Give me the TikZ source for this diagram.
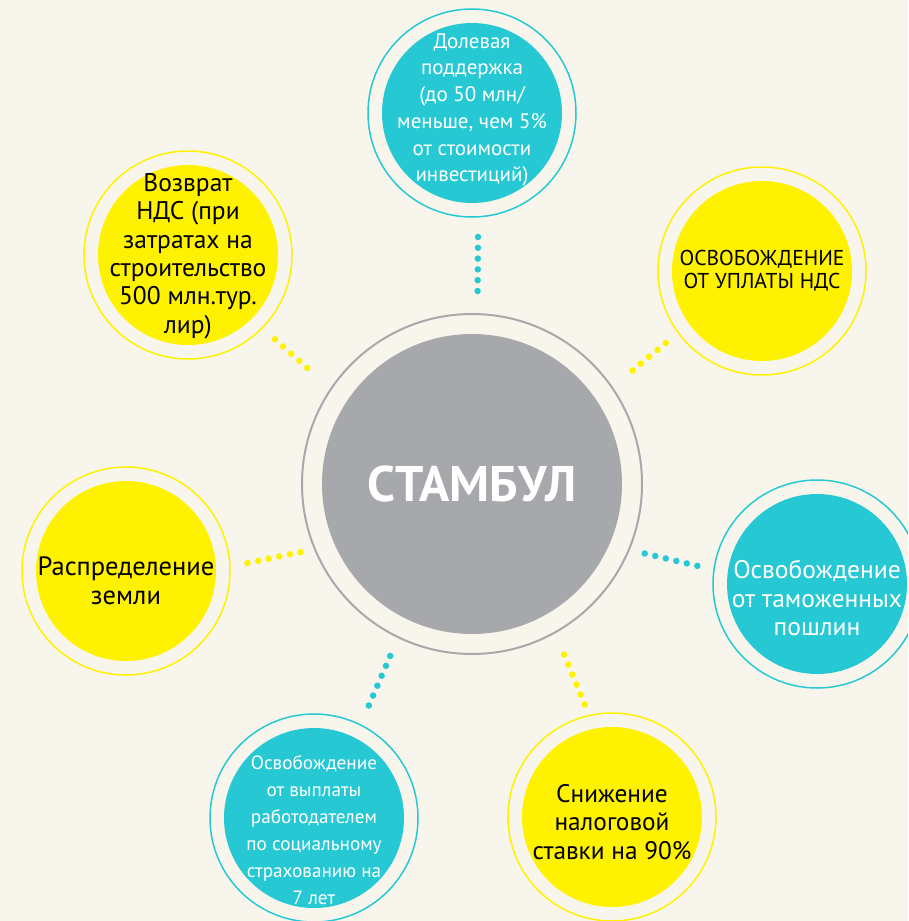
\documentclass[tikz,border=0pt]{standalone}
\usepackage{fontspec}
\setmainfont{PT Sans}
\usepackage{xcolor}

\definecolor{cream}{HTML}{F8F6EC}
\definecolor{sun}{HTML}{FFF200}
\definecolor{sea}{HTML}{26C9D3}
\definecolor{stone}{HTML}{A7A8AC}

\tikzset{
  bubble/.style={circle, fill=#1, minimum size=180pt, inner sep=0pt},
  ring/.style={draw=#1, line width=1.5pt},
  dotline/.style={draw=#1, line width=6.5pt, line cap=round, dash pattern=on 0pt off 10.8pt},
  caption/.style={align=center, inner sep=0pt}
}

\begin{document}
\begin{tikzpicture}[x=1pt,y=-1pt]
\useasboundingbox[fill=cream] (0,0) rectangle (908,921);
\clip (0,0) rectangle (908,921);

% centre
\node[bubble=stone, minimum size=300pt, text=white, font=\bfseries\fontsize{50}{60}\selectfont] (stambul) at (472,484) {СТАМБУЛ};
\draw[ring=stone, line width=2pt] (stambul.center) circle[radius=170pt];

% satellites
\node[bubble=sea] (dolya) at (472,113) {};
\node[bubble=sun] (vozvrat) at (188,255) {};
\node[bubble=sun] (nds) at (762,271) {};
\node[bubble=sea] (tamozh) at (817,584) {};
\node[bubble=sun] (nalog) at (612,817) {};
\node[bubble=sea] (soc) at (314,818) {};
\node[bubble=sun] (zemlya) at (126,571) {};

\foreach \n/\c in {dolya/sea, vozvrat/sun, nds/sun, tamozh/sea, nalog/sun, soc/sea, zemlya/sun}
  \draw[ring=\c] (\n.center) circle[radius=104pt];

% texts
\node[caption, text=white, font=\fontsize{21}{26.7}\selectfont] (dolya-txt) at ([yshift=3pt]dolya.center)
  {Долевая\\поддержка\\(до 50 млн/\\меньше, чем 5\%\\от стоимости\\инвестиций)};
\node[caption, font=\fontsize{25.5}{28.4}\selectfont] (vozvrat-txt) at ([yshift=-1pt]vozvrat.center)
  {Возврат\\НДС (при\\затратах на\\строительство\\500 млн.тур.\\лир)};
\node[caption, font=\fontsize{21.5}{23}\selectfont] (nds-txt) at (nds.center)
  {ОСВОБОЖДЕНИЕ\\ОТ УПЛАТЫ НДС};
\node[caption, text=white, font=\fontsize{25.5}{28.5}\selectfont] (tamozh-txt) at ([yshift=-14pt]tamozh.center)
  {Освобождение\\от таможенных\\пошлин};
\node[caption, font=\fontsize{25.3}{28.5}\selectfont] (nalog-txt) at ([yshift=-5pt]nalog.center)
  {Снижение\\налоговой\\ставки на 90\%};
\node[caption, text=white, font=\fontsize{19.2}{27}\selectfont] (soc-txt) at ([yshift=-12pt]soc.center)
  {Освобождение\\от выплаты\\работодателем\\по социальному\\страхованию на\\7 лет};
\node[caption, font=\fontsize{26.5}{29}\selectfont] (zemlya-txt) at ([yshift=-10pt]zemlya.center)
  {Распределение\\земли};

% dotted links
\draw[dotline=sea, shorten <=34pt, shorten >=41pt] (dolya.-86) -- (stambul.88);
\draw[dotline=sun, shorten <=31pt, shorten >=41pt] (vozvrat.-45) -- (stambul.147);
\draw[dotline=sun, shorten <=30pt, shorten >=37pt] (nds.216) -- (stambul.34);
\draw[dotline=sea, shorten <=31pt, shorten >=34pt] (tamozh.173) -- (stambul.-24);
\draw[dotline=sun, shorten <=26pt, shorten >=43pt] (nalog.101) -- (stambul.-60);
\draw[dotline=sea, shorten <=35pt, shorten >=38pt] (soc.63) -- (stambul.244);
\draw[dotline=sun, shorten <=32pt, shorten >=34pt] (zemlya.1) -- (stambul.204);
\end{tikzpicture}
\end{document}
